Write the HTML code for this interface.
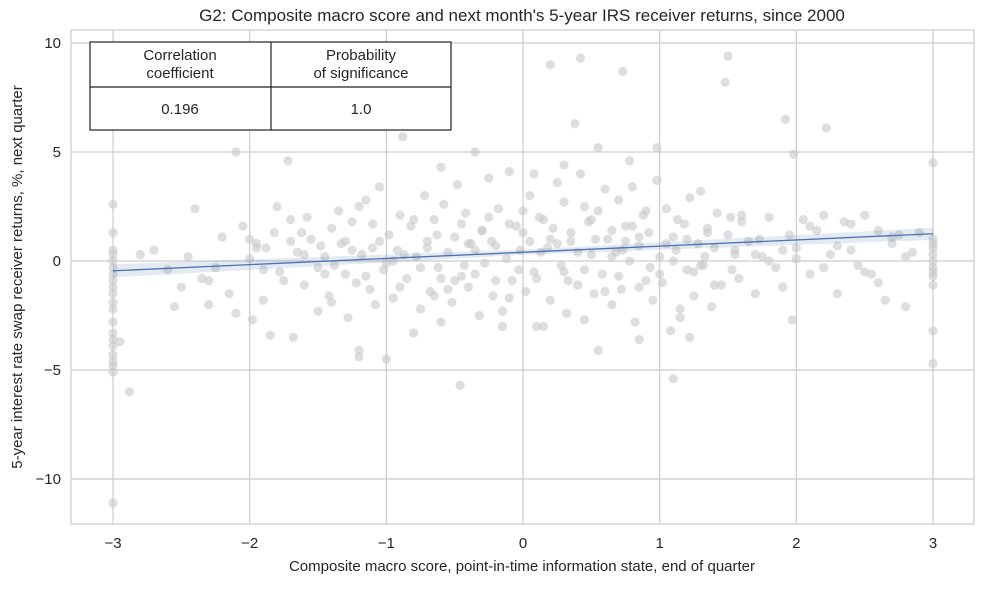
<!DOCTYPE html>
<html><head><meta charset="utf-8">
<style>
body{margin:0;background:#fff;font-family:"Liberation Sans",sans-serif;}
svg text{font-family:"Liberation Sans",sans-serif;fill:#262626;}
</style></head>
<body>
<svg id="chart" width="984" height="584" viewBox="0 0 984 584">
<text x="522" y="21" font-size="17" text-anchor="middle">G2: Composite macro score and next month's 5-year IRS receiver returns, since 2000</text>
<g id="grid"></g>
<g id="points"></g>
<g id="reg"></g>
<rect x="71" y="30" width="903" height="494" fill="none" stroke="#cccccc" stroke-width="1.2"/>
<g id="axes"></g>
<text x="522" y="571" font-size="15" text-anchor="middle">Composite macro score, point-in-time information state, end of quarter</text>
<text transform="translate(22,277) rotate(-90)" font-size="15" text-anchor="middle">5-year interest rate swap receiver returns, %, next quarter</text>
<g>
<rect x="90" y="42" width="361" height="88" fill="#fff" stroke="#222" stroke-width="1.2"/>
<line x1="271" y1="42" x2="271" y2="130" stroke="#222" stroke-width="1.2"/>
<line x1="90" y1="87" x2="451" y2="87" stroke="#222" stroke-width="1.2"/>
<text x="180" y="60" font-size="15" text-anchor="middle">Correlation</text>
<text x="180" y="78" font-size="15" text-anchor="middle">coefficient</text>
<text x="361" y="60" font-size="15" text-anchor="middle">Probability</text>
<text x="361" y="78" font-size="15" text-anchor="middle">of significance</text>
<text x="180" y="114" font-size="15" text-anchor="middle">0.196</text>
<text x="361" y="114" font-size="15" text-anchor="middle">1.0</text>
</g>
</svg>
<script>
const xTicks=[-3,-2,-1,0,1,2,3];
const yTicks=[10,5,0,-5,-10];
const yTickLabels=["10","5","0","\u22125","\u221210"];
const xTickLabels=["\u22123","\u22122","\u22121","0","1","2","3"];
const regX=[-3,3];
const regY=[-0.45,1.25];
const bandHalf=[0.3,0.12,0.28];
const edgeLeft=[[-3,-11.1],[-3,-5.1],[-3,-4.8],[-3,-4.6],[-3,-4.3],[-3,-3.9],[-3,-3.6],[-3,-3.3],[-3,-2.8],[-3,-2.2],[-3,-1.9],[-3,-1.5],[-3,-1.2],[-3,-0.9],[-3,-0.6],[-3,-0.3],[-3,0],[-3,0.3],[-3,0.5],[-3,1.3],[-3,2.6],[-2.95,-3.7],[-2.88,-6.0]];
const edgeRight=[[3,4.5],[3,-3.2],[3,-4.7],[3,-0.7],[3,-0.3],[3,0],[3,0.3],[3,0.6],[3,1.0],[3,-1.1],[3,0.8],[3,-0.5]];
const outliers=[[-2.1,5.0],[-1.72,4.6],[-0.88,5.7],[-0.35,5.0],[0.2,9.0],[0.42,9.3],[0.38,6.3],[0.73,8.7],[0.55,5.2],[1.5,9.4],[1.48,8.2],[1.92,6.5],[1.98,4.9],[2.22,6.1],[0.98,5.2],[0.78,4.6],[-0.46,-5.7],[1.1,-5.4],[-1.2,-4.4],[-1.0,-4.5],[-2.1,-2.4],[-1.85,-3.4],[1.97,-2.7],[0.15,-3.0],[-0.8,-3.3],[-0.1,4.1],[0.08,4.0],[-0.6,4.3],[0.3,4.4],[-1.2,-4.1],[0.55,-4.1],[0.85,-3.6],[1.22,-3.5]];
const cloud=[[-2.8,0.3],[-2.7,0.5],[-2.6,-0.4],[-2.55,-2.1],[-2.5,-1.2],[-2.45,0.2],[-2.4,2.4],[-2.35,-0.8],[-2.3,-2.0],[-2.25,-0.3],[-2.2,1.1],[-2.15,-1.5],[-2.05,1.6],[-2.0,0.1],[-1.98,-2.7],[-1.95,0.8],[-1.9,-1.8],[-1.88,0.6],[-1.82,1.3],[-1.8,2.5],[-1.78,-0.5],[-1.75,-0.9],[-1.7,1.9],[-1.68,-3.5],[-1.65,0.4],[-1.6,-1.1],[-1.58,2.0],[-1.55,1.0],[-1.5,-2.3],[-1.48,0.7],[-1.45,-0.6],[-1.42,-1.6],[-1.4,1.5],[-1.38,-0.2],[-1.35,2.3],[-1.3,0.9],[-1.28,-2.6],[-1.25,1.8],[-1.22,-1.0],[-1.18,0.3],[-1.15,2.8],[-1.12,-1.3],[-1.1,0.6],[-1.08,-2.0],[-1.05,3.4],[-1.02,-0.4],[-0.98,1.2],[-0.95,-1.7],[-0.92,0.5],[-0.9,2.1],[-0.85,-0.8],[-0.82,1.6],[-0.78,0.2],[-0.75,-2.2],[-0.72,3.0],[-0.7,0.9],[-0.68,-1.4],[-0.65,1.9],[-0.62,-0.3],[-0.6,-2.8],[-0.58,2.6],[-0.55,0.4],[-0.52,-1.9],[-0.5,1.1],[-0.48,3.5],[-0.45,-0.7],[-0.42,2.2],[-0.4,-1.2],[-0.38,0.8],[-0.32,-2.5],[-0.3,1.4],[-0.28,-0.1],[-0.25,3.8],[-0.22,-1.6],[-0.2,0.7],[-0.18,2.4],[-0.15,-3.0],[-0.12,0.1],[-0.1,1.7],[-0.08,-0.9],[-0.02,0.5],[0,1.3],[0.02,-1.4],[0.05,3.0],[0.08,-0.5],[0.1,-3.0],[0.12,2.0],[0.18,0.6],[0.2,-1.8],[0.22,1.5],[0.25,3.6],[0.28,-0.2],[0.3,2.7],[0.32,-2.4],[0.35,0.9],[0.4,-1.1],[0.42,4.0],[0.45,-2.7],[0.48,1.8],[0.5,0.3],[0.52,-1.5],[0.55,2.3],[0.58,-0.6],[0.6,3.3],[0.62,1.0],[0.65,-2.0],[0.68,0.4],[0.7,2.8],[0.72,-1.3],[0.75,1.6],[0.78,0.0],[0.8,3.4],[0.82,-2.8],[0.85,0.7],[0.88,2.1],[0.9,-0.9],[0.92,1.3],[0.95,-1.8],[0.98,3.7],[1.0,0.2],[1.02,-1.0],[1.05,2.4],[1.08,-3.2],[1.1,1.1],[1.12,0.5],[1.15,-2.2],[1.18,1.7],[1.2,-0.4],[1.22,2.9],[1.25,-1.6],[1.28,0.8],[1.3,3.2],[1.32,-0.2],[1.35,1.5],[1.38,-2.1],[1.4,0.6],[1.42,2.2],[1.45,-1.1],[1.52,2.0],[1.55,0.3],[1.58,-0.8],[1.6,1.8],[1.65,0.9],[1.7,-1.5],[1.75,0.2],[1.8,2.0],[1.85,-0.3],[1.9,0.5],[1.95,1.2],[2.0,0.1],[2.05,1.9],[2.1,-0.6],[2.15,1.4],[2.2,2.1],[2.25,0.3],[2.3,-1.5],[2.35,1.8],[2.4,0.5],[2.45,-0.2],[2.5,2.1],[2.55,-0.6],[2.6,1.4],[2.65,-1.8],[2.7,0.8],[2.75,1.2],[2.8,-2.1],[2.85,0.4],[2.9,1.3],
[-2.3,-0.9],[-1.9,-0.4],[-1.6,0.3],[-1.3,-0.6],[-1.1,1.7],[-0.9,-1.2],[-0.7,0.6],[-0.5,-0.9],[-0.3,1.4],[-0.1,-1.7],[0.1,-0.8],[0.3,-0.5],[0.5,1.9],[0.7,-0.7],[0.9,2.3],[1.1,0.0],[1.3,-0.2],[1.5,1.2],[1.7,0.3],[1.9,-1.2],[2.1,1.6],[2.3,0.7],[2.5,-0.5],[2.7,1.1],
[-2.0,1.0],[-1.7,0.9],[-1.4,-1.9],[-1.2,2.5],[-1.0,-0.1],[-0.8,1.9],[-0.6,-0.8],[-0.4,0.8],[-0.2,-0.9],[0.0,2.3],[0.2,1.0],[0.4,0.4],[0.6,-1.4],[0.8,1.6],[1.0,-0.6],[1.2,1.0],[1.4,-1.1],[1.6,2.1],[1.8,0.0],[2.0,0.6],[2.2,-0.3],[2.4,1.7],[2.6,-1.0],[2.8,0.2],
[-1.5,-0.3],[-1.25,0.5],[-0.95,0.0],[-0.65,-1.6],[-0.35,0.5],[-0.05,1.6],[0.25,0.8],[0.45,-0.4],[0.65,0.2],[0.85,-1.2],[1.15,-2.6],[1.35,1.3],[1.55,0.5],[-0.55,-1.3],[-0.15,-2.3],[0.35,1.3],[0.75,0.9],[1.25,-0.5],
[-1.95,0.6],[-1.62,1.3],[-1.33,0.8],[-1.05,0.9],[-0.87,0.3],[-0.63,1.2],[-0.43,-0.2],[-0.23,0.9],[-0.03,-0.4],[0.13,0.4],[0.33,-0.9],[0.53,1.0],[0.73,0.5],[0.93,-0.3],[1.13,1.9],[1.33,0.2],[1.53,-0.4],[1.73,1.0],[-1.15,-0.7],[-0.75,-0.3],[-0.35,-0.6],[0.05,0.9],[0.45,2.5],[0.85,1.1],[1.05,0.8],[-0.45,1.7],[0.15,1.9],[0.65,1.4],[-1.45,0.2],[-0.25,2.0]];
const allPoints=edgeLeft.concat(edgeRight,outliers,cloud);
const L=71,R=974,T=30,B=524;
const xs=v=>113+(v+3)*(933-113)/6;
const ys=v=>261-v*(261-43)/10;
const NS="http://www.w3.org/2000/svg";
function mk(tag,attrs,parent){const e=document.createElementNS(NS,tag);for(const k in attrs)e.setAttribute(k,attrs[k]);parent.appendChild(e);return e;}
const grid=document.getElementById('grid'),axes=document.getElementById('axes');
xTicks.forEach((t,i)=>{
 const g=mk('line',{x1:xs(t),x2:xs(t),y1:T,y2:B,stroke:'#cccccc','stroke-width':1.2},grid);
 
 
 const tx=mk('text',{x:xs(t),y:548,'font-size':15,'text-anchor':'middle'},axes);
 tx.textContent=xTickLabels[i];
 
 
});
yTicks.forEach((t,i)=>{
 const g=mk('line',{x1:L,x2:R,y1:ys(t),y2:ys(t),stroke:'#cccccc','stroke-width':1.2},grid);
 
 
 const tx=mk('text',{x:61,y:ys(t)+5,'font-size':15,'text-anchor':'end'},axes);
 tx.textContent=yTickLabels[i];
 
 
});
const pg=document.getElementById('points');
allPoints.forEach(p=>{
 const c=mk('circle',{cx:xs(p[0]),cy:ys(p[1]),r:4.6,fill:'#c8c8c8','fill-opacity':0.6},pg);
 
 
});
const rg=document.getElementById('reg');
const f=x=>regY[0]+(x-regX[0])*(regY[1]-regY[0])/(regX[1]-regX[0]);
const bx=[-3,0,3];
let up=bx.map((x,i)=>xs(x)+','+ys(f(x)+bandHalf[i])).join(' ');
let dn=bx.slice().reverse().map((x,j)=>xs(x)+','+ys(f(x)-bandHalf[2-j])).join(' ');
const band=mk('polygon',{points:up+' '+dn,fill:'#4c72b0','fill-opacity':0.15},rg);


const ln=mk('line',{x1:xs(regX[0]),y1:ys(regY[0]),x2:xs(regX[1]),y2:ys(regY[1]),stroke:'#4c72b0','stroke-width':1.3},rg);


</script>
</body></html>
